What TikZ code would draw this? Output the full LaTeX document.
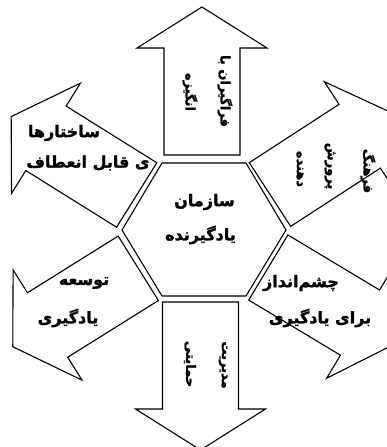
\documentclass[tikz,border=0pt]{standalone}
\usepackage{fontspec}
\newfontfamily\fa[Script=Arabic,FakeBold=1.6]{DejaVu Sans}
\TeXXeTstate=1
\tikzset{
  shp/.style={draw=black, line width=1.1pt, fill=white, line join=miter},
  lbl/.style={font=\fa\bfseries\fontsize{16}{19}\selectfont, inner sep=0pt, text=black},
  vlbl/.style={lbl, rotate=-90, font=\fa\bfseries\fontsize{13}{16}\selectfont},
  fatarr/.pic={\draw[shp] (0,-38) -- (107,-38) -- (107,-65) -- (148,0) -- (107,65) -- (107,38) -- (0,38) -- cycle;}
}
\begin{document}
\begin{tikzpicture}[x=1pt,y=-1pt]
\useasboundingbox (0,0) rectangle (387,447);
\clip (0,0) rectangle (387,447);
% arrows
\pic[rotate=90] at (202,155) {fatarr};
\pic[rotate=270] at (200.5,302) {fatarr};
\pic[rotate=148] at (136.7,195) {fatarr};
\pic[rotate=212] at (138.3,268.3) {fatarr};
\pic[rotate=33] at (270,194.5) {fatarr};
\pic[rotate=-31] at (268.3,267.5) {fatarr};
% hexagon
\draw[shp] (162,163) coordinate (h1) -- (246,163) coordinate (h2) -- (286,230) coordinate (h3) -- (246,296) coordinate (h4) -- (162,296) coordinate (h5) -- (122,230) coordinate (h6) -- cycle;
% texts
\node[lbl] (c1) at (204.5,202) {\beginR سازمان\endR};
\node[lbl] (c2) at (200.5,235) {\beginR یادگیرنده\endR};
\node[vlbl] (t1) at (225,91) {\beginR فراگیران با\endR};
\node[vlbl] (t2) at (190,92) {\beginR انگیزه\endR};
\node[vlbl] (r1) at (368,171) {\beginR فرهنگ\endR};
\node[vlbl] (r2) at (330,166) {\beginR پرورش\endR};
\node[vlbl] (r3) at (300,169) {\beginR دهنده\endR};
\node[lbl] (s1) at (301,283) {\beginR چشم‌انداز\endR};
\node[lbl] (s2) at (320,318) {\beginR برای یادگیری\endR};
\node[vlbl] (b1) at (223,365) {\beginR مدیریت\endR};
\node[vlbl] (b2) at (190,364) {\beginR حمایتی\endR};
\node[lbl] (l1) at (84,283) {\beginR توسعه\endR};
\node[lbl] (l2) at (68,318) {\beginR یادگیری\endR};
\node[lbl] (u1) at (64,133) {\beginR ساختارها\endR};
\node[lbl] (u2) at (88,163) {\beginR ی قابل انعطاف\endR};
\end{tikzpicture}
\end{document}
